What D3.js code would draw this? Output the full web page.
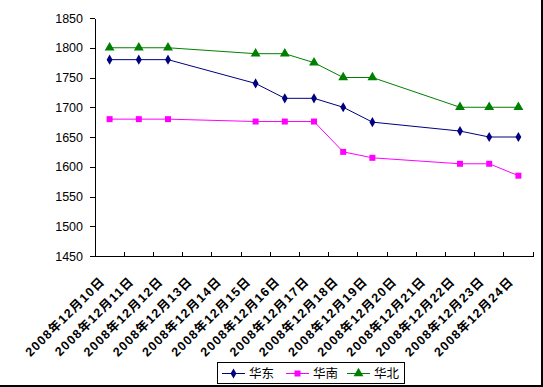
<!DOCTYPE html>
<html>
<head>
<meta charset="utf-8">
<script src="https://cdn.jsdelivr.net/npm/d3@7"></script>
<style>
  body { margin: 0; background: #fff; }
  svg { display: block; }
</style>
</head>
<body>
<div id="chart"></div>
<script>
// data
var dates = ["2008年12月10日", "2008年12月11日", "2008年12月12日", "2008年12月13日", "2008年12月14日",
  "2008年12月15日", "2008年12月16日", "2008年12月17日", "2008年12月18日", "2008年12月19日",
  "2008年12月20日", "2008年12月21日", "2008年12月22日", "2008年12月23日", "2008年12月24日"];
var huadong = [1780, 1780, 1780, null, null, 1740, 1715, 1715, 1700, 1675, null, null, 1660, 1650, 1650];
var huanan = [1680, 1680, 1680, null, null, 1676, 1676, 1676, 1625, 1615, null, null, 1605, 1605, 1585];
var huabei = [1800, 1800, 1800, null, null, 1790, 1790, 1775, 1750, 1750, null, null, 1700, 1700, 1700];
var yTicks = [1450, 1500, 1550, 1600, 1650, 1700, 1750, 1800, 1850];
var seriesNames = ["华东", "华南", "华北"];

var svgWidth = 543;
var svgHeight = 387;

var plot = { left: 95, right: 533, top: 18, bottom: 256 };

var svg = d3.select("#chart")
  .append("svg")
  .attr("width", svgWidth)
  .attr("height", svgHeight);

// outer frame (only right and bottom edges show)
svg.append("rect").attr("x", 541).attr("y", 0).attr("width", 2).attr("height", svgHeight).attr("fill", "#000");
svg.append("rect").attr("x", 0).attr("y", 385).attr("width", svgWidth).attr("height", 2).attr("fill", "#000");

var x = d3.scaleBand()
  .domain(dates)
  .range([plot.left, plot.right])
  .padding(0);

var y = d3.scaleLinear()
  .domain([1450, 1850])
  .range([plot.bottom, plot.top]);

// y axis
var yAxis = svg.append("g")
  .attr("transform", `translate(${plot.left}, 0)`)
  .call(d3.axisLeft(y).tickValues(yTicks).tickFormat(d3.format("d")).tickSize(5).tickSizeOuter(0).tickPadding(7));
yAxis.selectAll("text")
  .style("font-family", "Liberation Sans, Arial, sans-serif")
  .style("font-size", "12.5px")
  .attr("fill", "#000");
yAxis.selectAll("line, path").attr("stroke", "#000").attr("shape-rendering", "crispEdges");

// x axis
var xAxis = svg.append("g")
  .attr("transform", `translate(0, ${plot.bottom})`)
  .call(d3.axisBottom(x).tickSize(0).tickSizeOuter(0).tickFormat(""));
xAxis.select("path").attr("stroke", "#000").attr("shape-rendering", "crispEdges");

// tick marks between categories, pointing up into the plot
var tickPos = dates.map(d => x(d)).concat([plot.right]);
svg.append("g").selectAll("line")
  .data(tickPos)
  .enter()
  .append("line")
  .attr("x1", d => d)
  .attr("x2", d => d)
  .attr("y1", plot.bottom)
  .attr("y2", plot.bottom - 4)
  .attr("stroke", "#000")
  .attr("shape-rendering", "crispEdges");

// rotated category labels
svg.append("g").selectAll("text")
  .data(dates)
  .enter()
  .append("text")
  .attr("transform", d => `translate(${x(d) + x.bandwidth() / 2 - 4}, ${plot.bottom + 26}) rotate(-45)`)
  .style("text-anchor", "end")
  .style("font-family", "Liberation Sans, Noto Sans CJK SC, sans-serif")
  .style("font-size", "12.5px")
  .style("font-weight", "bold")
  .style("letter-spacing", "1.2px")
  .attr("fill", "#000")
  .text(d => d);

// series
var series = [
  { name: seriesNames[0], values: huadong, color: "#000080", marker: d3.symbolDiamond, size: 30 },
  { name: seriesNames[1], values: huanan, color: "#FF00FF", marker: d3.symbolSquare, size: 36 },
  { name: seriesNames[2], values: huabei, color: "#008000", marker: d3.symbolTriangle, size: 42 }
];

var line = d3.line()
  .x(d => x(d.date) + x.bandwidth() / 2)
  .y(d => y(d.value));

series.forEach(function(s) {
  var pts = dates.map((d, i) => ({ date: d, value: s.values[i] })).filter(p => p.value != null);

  svg.append("path")
    .datum(pts)
    .attr("d", line)
    .attr("fill", "none")
    .attr("stroke", s.color)
    .attr("stroke-width", 1);

  svg.append("g").selectAll("path")
    .data(pts)
    .enter()
    .append("path")
    .attr("d", d3.symbol().type(s.marker).size(s.size))
    .attr("transform", d => `translate(${x(d.date) + x.bandwidth() / 2}, ${y(d.value)})`)
    .attr("fill", s.color);
});

// legend
var legend = svg.append("g");
legend.append("rect")
  .attr("x", 217.5)
  .attr("y", 362.5)
  .attr("width", 187)
  .attr("height", 21)
  .attr("fill", "#fff")
  .attr("stroke", "#000");

var legendX = [222, 286, 347];
series.forEach(function(s, i) {
  var lx = legendX[i];
  legend.append("line")
    .attr("x1", lx).attr("x2", lx + 23)
    .attr("y1", 373.5).attr("y2", 373.5)
    .attr("stroke", s.color);
  legend.append("path")
    .attr("d", d3.symbol().type(s.marker).size(s.size))
    .attr("transform", `translate(${lx + 11.5}, 373.5)`)
    .attr("fill", s.color);
  legend.append("text")
    .attr("x", lx + 27)
    .attr("y", 378)
    .style("font-family", "Noto Sans CJK SC, sans-serif")
    .style("font-size", "12.5px")
    .attr("fill", "#000")
    .text(s.name);
});
</script>
</body>
</html>
